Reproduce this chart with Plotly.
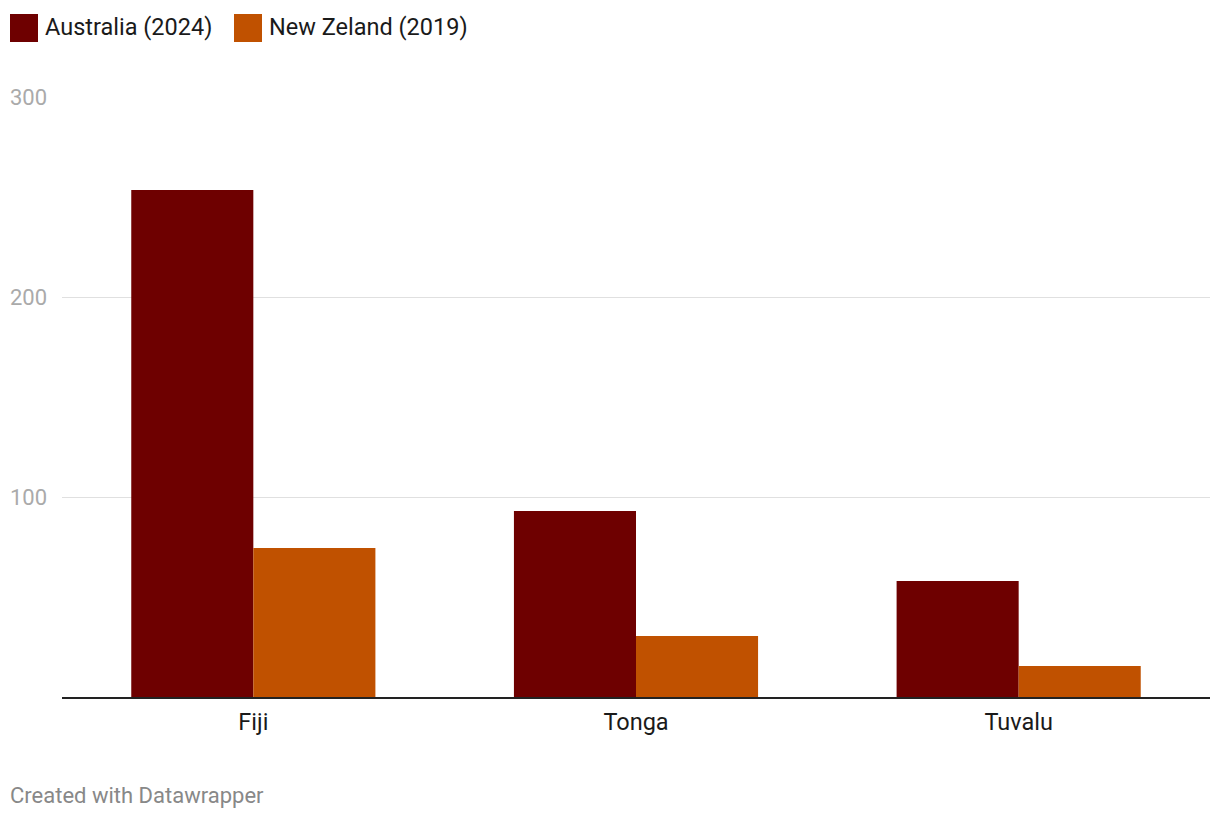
import plotly.graph_objects as go

categories = ["Fiji", "Tonga", "Tuvalu"]
australia_2024 = [253.5, 93, 58]
new_zealand_2019 = [74.5, 30.5, 15.5]
series_names = ["Australia (2024)", "New Zeland (2019)"]
y_ticks = [100, 200, 300]

colors = ["#6e0000", "#c05100"]

W, H = 1220, 820
L, R, T, B = 62, 10, 97, 123
pw, ph = W - L - R, H - T - B

def px(x):
    return (x - L) / pw

def py(y):
    return (H - B - y) / ph

fig = go.Figure()
fig.add_trace(go.Bar(x=categories, y=australia_2024, name=series_names[0],
                     marker=dict(color=colors[0], line=dict(width=0)), showlegend=False))
fig.add_trace(go.Bar(x=categories, y=new_zealand_2019, name=series_names[1],
                     marker=dict(color=colors[1], line=dict(width=0)), showlegend=False))

shapes = []
annotations = []
legend_x = [10, 234]
for i, name in enumerate(series_names):
    x0 = legend_x[i]
    shapes.append(dict(type="rect", xref="paper", yref="paper",
                       x0=px(x0), x1=px(x0 + 28), y0=py(42), y1=py(14),
                       fillcolor=colors[i], line=dict(width=0)))
    annotations.append(dict(text=name, xref="paper", yref="paper",
                            x=px(x0 + 33), y=py(27), xanchor="left", yanchor="middle",
                            showarrow=False, font=dict(family="Roboto", size=23.5, color="#1a1a1a")))

annotations.append(dict(text="Created with Datawrapper", xref="paper", yref="paper",
                        x=px(8), y=py(795), xanchor="left", yanchor="middle",
                        showarrow=False, font=dict(family="Roboto", size=22, color="#888888")))

fig.update_layout(
    width=W, height=H,
    margin=dict(l=L, r=R, t=T, b=B, pad=0),
    paper_bgcolor="white", plot_bgcolor="white",
    barmode="group", bargap=0.362, bargroupgap=0,
    font=dict(family="Roboto", size=20, color="#222222"),
    shapes=shapes, annotations=annotations,
    xaxis=dict(showline=True, linecolor="#222222", linewidth=2, ticks="",
               ticklabelstandoff=3,
               tickfont=dict(family="Roboto", size=23.5, color="#1a1a1a"),
               showgrid=False, zeroline=False, fixedrange=True),
    yaxis=dict(range=[0, 300], tickvals=y_ticks, showgrid=True, gridcolor="#e0e0e0",
               gridwidth=1, zeroline=False, showline=False, ticks="",
               ticklabelstandoff=14,
               tickfont=dict(family="Roboto", size=22, color="#aaaaaa"), fixedrange=True),
)

fig.write_html("out.html", config={"displayModeBar": False})
